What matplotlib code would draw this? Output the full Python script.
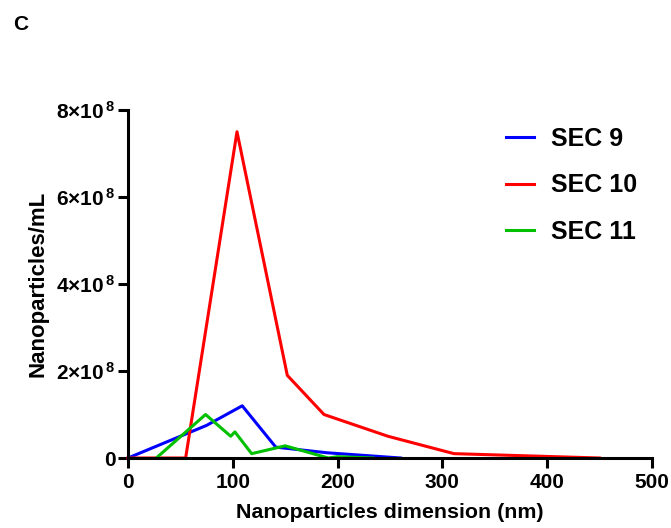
import matplotlib
matplotlib.use("Agg")
import matplotlib.pyplot as plt
from matplotlib.ticker import FixedLocator, FuncFormatter

plt.rcParams['font.family'] = ['Liberation Sans', 'DejaVu Sans']
plt.rcParams['font.weight'] = 'bold'
plt.rcParams['mathtext.fontset'] = 'custom'
plt.rcParams['mathtext.rm'] = 'Liberation Sans:bold'
plt.rcParams['mathtext.bf'] = 'Liberation Sans:bold'
plt.rcParams['mathtext.it'] = 'Liberation Sans:bold'

# Data (x in nm, y in particles/mL)
sec9_x = [0, 50, 75, 109, 141, 190, 260]
sec9_y = [0, 0.5e8, 0.75e8, 1.2e8, 0.25e8, 0.12e8, 0]

sec10_x = [0, 55, 104, 152, 187, 248, 311, 380, 450]
sec10_y = [0, 0, 7.5e8, 1.9e8, 1.0e8, 0.5e8, 0.1e8, 0.05e8, 0]

sec11_x = [27, 74, 98, 102, 118, 150, 191, 200, 234]
sec11_y = [0, 1.0e8, 0.5e8, 0.6e8, 0.1e8, 0.28e8, 0, 0.03e8, 0]

series_labels = ['SEC 9', 'SEC 10', 'SEC 11']
x_ticks = [0, 100, 200, 300, 400, 500]
y_ticks = [0, 2e8, 4e8, 6e8, 8e8]

W, H = 671, 528
fig = plt.figure(figsize=(W / 100, H / 100), dpi=100)
left, right, top, bottom = 128, 652, 110, 458
ax = fig.add_axes([left / W, 1 - bottom / H, (right - left) / W, (bottom - top) / H])

lw = 2.2
ax.plot(sec9_x, sec9_y, color='#0000ff', lw=lw, label=series_labels[0], clip_on=False)
ax.plot(sec10_x, sec10_y, color='#ff0000', lw=lw, label=series_labels[1], clip_on=False)
ax.plot(sec11_x, sec11_y, color='#00c000', lw=lw, label=series_labels[2], clip_on=False)

ax.set_xlim(0, 500)
ax.set_ylim(0, 8e8)
ax.xaxis.set_major_locator(FixedLocator(x_ticks))
ax.yaxis.set_major_locator(FixedLocator(y_ticks))

def yfmt(v, pos):
    if v == 0:
        return '0'
    m = int(round(v / 1e8))
    return r'$\mathbf{%d{\times}10^{\,8}}$' % m

ax.yaxis.set_major_formatter(FuncFormatter(yfmt))

for s in ['top', 'right']:
    ax.spines[s].set_visible(False)
for s in ['left', 'bottom']:
    ax.spines[s].set_linewidth(2.2)
    ax.spines[s].set_capstyle('projecting')
ax.tick_params(axis='both', direction='out', length=7, width=2.2, labelsize=15)
ax.tick_params(axis='y', pad=2)
ax.tick_params(axis='x', pad=4)
for lab in ax.get_xticklabels() + ax.get_yticklabels():
    lab.set_fontweight('bold')

ax.set_xlabel('Nanoparticles dimension (nm)', fontsize=15.4, fontweight='bold', labelpad=8)
ax.set_ylabel('Nanoparticles/mL', fontsize=16, fontweight='bold', labelpad=6)

leg = ax.legend(loc='upper left', bbox_to_anchor=(0.679, 1.016), frameon=False,
                handlelength=1.1, handletextpad=0.68, labelspacing=0.9,
                prop={'weight': 'bold', 'size': 18})

fig.text(13 / W, 1 - 25 / H, 'C', fontsize=15, fontweight='bold', va='center', ha='left')

fig.savefig('out.png', dpi=100)
